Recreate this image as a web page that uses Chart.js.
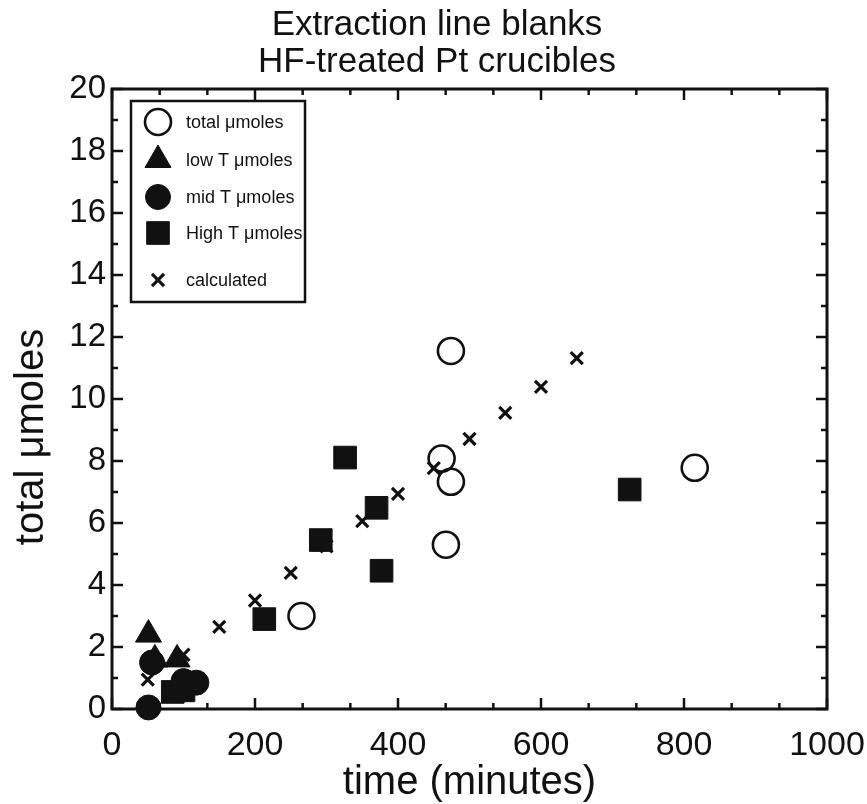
<!DOCTYPE html>
<html>
<head>
<meta charset="utf-8">
<script src="https://cdn.jsdelivr.net/npm/chart.js@4.4.1/dist/chart.umd.min.js"></script>
<style>
  html, body { margin: 0; padding: 0; background: #fff; }
  canvas { display: block; }
</style>
</head>
<body>
<canvas id="blanks" width="867" height="804"></canvas>
<script>
const titleLines = ['Extraction line blanks', 'HF-treated Pt crucibles'];
const xLabel = 'time (minutes)';
const yLabel = 'total μmoles';

// axis ticks (major); minor ticks fall in between
const xTicks = [0, 200, 400, 600, 800, 1000];
const yTicks = [0, 2, 4, 6, 8, 10, 12, 14, 16, 18, 20];

// total μmoles (open circles)
const totalTime  = [265, 461, 474, 474, 467, 815];
const totalMoles = [3.0, 8.08, 7.33, 11.55, 5.3, 7.78];

// low T μmoles (triangles)
const lowTime  = [51, 60, 91];
const lowMoles = [2.4, 1.6, 1.6];

// mid T μmoles (filled circles)
const midTime  = [51, 56, 100, 118];
const midMoles = [0.05, 1.5, 0.9, 0.85];

// High T μmoles (squares)
const highTime  = [213, 292, 326, 370, 377, 724, 85, 100];
const highMoles = [2.9, 5.45, 8.11, 6.49, 4.46, 7.08, 0.55, 0.6];

// calculated
const calcTime  = [50, 100, 150, 200, 250, 300, 350, 400, 450, 500, 550, 600, 650];
const calcMoles = [0.95, 1.75, 2.65, 3.5, 4.39, 5.25, 6.06, 6.94, 7.77, 8.71, 9.55, 10.39, 11.32];

const FONT = "'Liberation Sans', Arial, Helvetica, sans-serif";
const INK = '#111';

function pts(xs, ys) {
  return xs.map((x, i) => ({ x: x, y: ys[i] }));
}

const series = [
  { label: 'total μmoles', data: pts(totalTime, totalMoles), pointStyle: 'circle',
    pointRadius: 13, pointBorderWidth: 2.6, pointBackgroundColor: 'rgba(0,0,0,0)', order: 2 },
  { label: 'low T μmoles', data: pts(lowTime, lowMoles), pointStyle: 'triangle',
    pointRadius: 15, pointBorderWidth: 1, pointBackgroundColor: INK, order: 1 },
  { label: 'mid T μmoles', data: pts(midTime, midMoles), pointStyle: 'circle',
    pointRadius: 12.5, pointBorderWidth: 1, pointBackgroundColor: INK, order: 0 },
  { label: 'High T μmoles', data: pts(highTime, highMoles), pointStyle: 'rect',
    pointRadius: 16, pointBorderWidth: 1, pointBackgroundColor: INK, order: 1 },
  { label: 'calculated', data: pts(calcTime, calcMoles), pointStyle: 'crossRot',
    pointRadius: 8.5, pointBorderWidth: 3.2, pointBackgroundColor: INK, order: 3 }
];

// legend rows: y position of each entry inside the box
const legendRows = [122, 160, 197, 233, 280];

function drawMarker(ctx, ds, x, y) {
  ctx.save();
  ctx.fillStyle = ds.pointBackgroundColor;
  ctx.strokeStyle = INK;
  ctx.lineWidth = ds.pointBorderWidth;
  Chart.helpers.drawPoint(ctx, {
    pointStyle: ds.pointStyle, radius: ds.pointRadius, rotation: 0,
    borderWidth: ds.pointBorderWidth
  }, x, y);
  ctx.restore();
}

// keep tick labels from pushing the plot frame inward
function noOverhang(s) {
  s.paddingLeft = 0; s.paddingRight = 0;
  s.paddingTop = 0; s.paddingBottom = 0;
}

const framePlugin = {
  id: 'frame',
  beforeDatasetsDraw(chart) {
    const { ctx, chartArea: a, scales } = chart;
    const xs = scales.x, ys = scales.y;
    ctx.save();
    ctx.strokeStyle = INK;
    ctx.lineWidth = 2.5;
    ctx.lineCap = 'butt';

    const tick = (x1, y1, x2, y2) => {
      ctx.beginPath(); ctx.moveTo(x1, y1); ctx.lineTo(x2, y2); ctx.stroke();
    };

    // x ticks on bottom and top, minor at thirds
    const xStep = xTicks[1] - xTicks[0];
    for (let i = 0; i < xTicks.length; i++) {
      const v = xTicks[i];
      const px = xs.getPixelForValue(v);
      tick(px, a.bottom, px, a.bottom - 11);
      tick(px, a.top, px, a.top + 11);
      if (i < xTicks.length - 1) {
        for (let k = 1; k < 3; k++) {
          const mx = xs.getPixelForValue(v + xStep * k / 3);
          tick(mx, a.bottom, mx, a.bottom - 6);
          tick(mx, a.top, mx, a.top + 6);
        }
      }
    }
    // y ticks on left and right, minor at halves
    const yStep = yTicks[1] - yTicks[0];
    for (let i = 0; i < yTicks.length; i++) {
      const v = yTicks[i];
      const py = ys.getPixelForValue(v);
      tick(a.left, py, a.left + 11, py);
      tick(a.right, py, a.right - 11, py);
      if (i < yTicks.length - 1) {
        const my = ys.getPixelForValue(v + yStep / 2);
        tick(a.left, my, a.left + 6, my);
        tick(a.right, my, a.right - 6, my);
      }
    }

    ctx.lineWidth = 3;
    ctx.strokeRect(a.left, a.top, a.right - a.left, a.bottom - a.top);

    ctx.fillStyle = INK;
    ctx.textAlign = 'center';
    ctx.textBaseline = 'middle';

    // two-line heading
    ctx.font = '35px ' + FONT;
    ctx.fillText(titleLines[0], 437, 25);
    ctx.fillText(titleLines[1], 437, 62);

    // y axis title
    ctx.font = '40px ' + FONT;
    ctx.translate(32, 437);
    ctx.rotate(-Math.PI / 2);
    ctx.fillText(yLabel, 0, 0);
    ctx.restore();
  },
  afterDraw(chart) {
    const ctx = chart.ctx;
    ctx.save();
    // legend box
    ctx.fillStyle = '#fff';
    ctx.fillRect(131, 101, 174, 201);
    ctx.strokeStyle = INK;
    ctx.lineWidth = 2.5;
    ctx.strokeRect(131, 101, 174, 201);
    ctx.font = '18px ' + FONT;
    ctx.textAlign = 'left';
    ctx.textBaseline = 'middle';
    series.forEach((ds, i) => {
      const y = legendRows[i];
      drawMarker(ctx, ds, 158, y);
      ctx.fillStyle = INK;
      ctx.fillText(ds.label, 186, y + 1);
    });
    ctx.restore();
  }
};

new Chart(document.getElementById('blanks'), {
  type: 'scatter',
  data: {
    datasets: series.map(s => ({
      label: s.label,
      data: s.data,
      pointStyle: s.pointStyle,
      pointRadius: s.pointRadius,
      pointHoverRadius: s.pointRadius,
      pointBorderWidth: s.pointBorderWidth,
      pointBackgroundColor: s.pointBackgroundColor,
      pointBorderColor: INK,
      showLine: false,
      clip: false,
      order: s.order
    }))
  },
  options: {
    responsive: false,
    animation: false,
    devicePixelRatio: 1,
    layout: { padding: { left: 0, right: 40, top: 89, bottom: 0 } },
    plugins: {
      legend: { display: false },
      tooltip: { enabled: false },
      title: { display: false }
    },
    scales: {
      x: {
        type: 'linear',
        min: 0,
        max: 1000,
        afterFit: s => { s.height = 95; noOverhang(s); },
        afterBuildTicks: s => { s.ticks = xTicks.map(v => ({ value: v })); },
        grid: { display: false, drawTicks: false },
        border: { display: false },
        ticks: {
          color: INK,
          padding: 16,
          maxRotation: 0,
          autoSkip: false,
          font: { family: FONT, size: 34 },
          callback: v => String(v)
        },
        title: {
          display: true,
          text: xLabel,
          color: INK,
          font: { family: FONT, size: 40, lineHeight: 0.8 },
          padding: { top: 0, bottom: 5 }
        }
      },
      y: {
        type: 'linear',
        min: 0,
        max: 20,
        afterFit: s => { s.width = 112; noOverhang(s); },
        afterBuildTicks: s => { s.ticks = yTicks.map(v => ({ value: v })); },
        grid: { display: false, drawTicks: false },
        border: { display: false },
        ticks: {
          color: INK,
          padding: 6,
          autoSkip: false,
          font: { family: FONT, size: 33 },
          callback: v => String(v)
        }
      }
    }
  },
  plugins: [framePlugin]
});
</script>
</body>
</html>
